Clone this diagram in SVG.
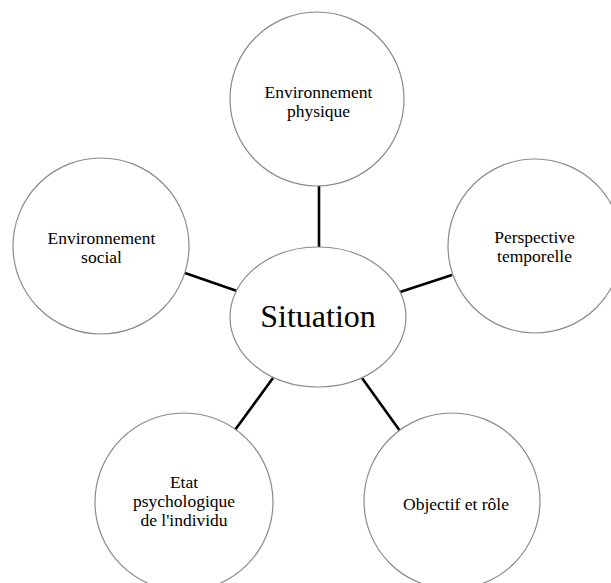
<svg xmlns="http://www.w3.org/2000/svg" width="611" height="583" viewBox="0 0 611 583">
<style>
.n{fill:#fff;stroke:#8a8a8a;stroke-width:1.2}
.t{font-family:"Liberation Serif","Times New Roman",serif;font-size:17.5px;fill:#000;text-anchor:middle}
.c{stroke:#000;stroke-width:2.6;fill:none}
</style>
<rect width="611" height="583" fill="#fff"/>
<g id="connectors">
<line class="c" x1="319" y1="185" x2="319" y2="247"/>
<line class="c" x1="185" y1="273" x2="237" y2="291"/>
<line class="c" x1="400" y1="292" x2="452" y2="275"/>
<line class="c" x1="273" y1="378" x2="235" y2="430"/>
<line class="c" x1="362" y1="378" x2="400" y2="431"/>
</g>
<g id="situation">
<ellipse class="n" cx="318" cy="317" rx="88" ry="70"/>
<text x="318" y="327" font-family="Liberation Serif, Times New Roman, serif" font-size="32" text-anchor="middle">Situation</text>
</g>
<g id="env-physique">
<circle class="n" cx="317" cy="99" r="87"/>
<text class="t" x="318.5" y="97.5">Environnement</text>
<text class="t" x="318.5" y="116.5">physique</text>
</g>
<g id="env-social">
<circle class="n" cx="101" cy="246" r="88"/>
<text class="t" x="101.5" y="243.5">Environnement</text>
<text class="t" x="101.5" y="262.5">social</text>
</g>
<g id="perspective">
<circle class="n" cx="535" cy="246" r="87"/>
<text class="t" x="534.5" y="243">Perspective</text>
<text class="t" x="534.5" y="262">temporelle</text>
</g>
<g id="etat">
<circle class="n" cx="184" cy="502" r="89"/>
<text class="t" x="184" y="488">Etat</text>
<text class="t" x="184" y="507">psychologique</text>
<text class="t" x="184" y="526">de l'individu</text>
</g>
<g id="objectif">
<circle class="n" cx="452" cy="501" r="88"/>
<text class="t" x="456" y="509.5">Objectif et rôle</text>
</g>
</svg>
